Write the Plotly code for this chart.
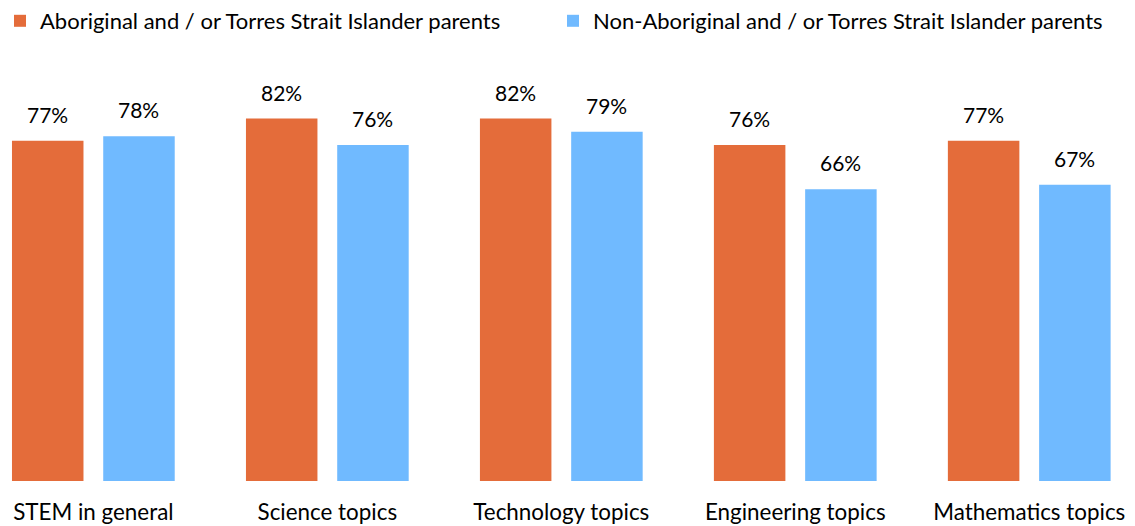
import plotly.graph_objects as go

# Share of parents, by topic area
categories = ["STEM in general", "Science topics", "Technology topics",
              "Engineering topics", "Mathematics topics"]
series_names = ["Aboriginal and / or Torres Strait Islander parents",
                "Non-Aboriginal and / or Torres Strait Islander parents"]
aboriginal = [77, 82, 82, 76, 77]
non_aboriginal = [78, 76, 79, 66, 67]
colors = ["#E46C3A", "#70BAFF"]

W, H = 1135, 526
M_L, M_R, M_T, M_B = 0, 0, 39, 45
X_RANGE = [-0.399, 4.452]
BARGAP = 0.22
BARGROUPGAP = 0.2165
FONT = "Lato"
FS_LABEL = 21
FS_TICK = 22.4
FS_LEGEND = 22.0

fig = go.Figure()
for name, vals, col in zip(series_names, [aboriginal, non_aboriginal], colors):
    fig.add_trace(go.Bar(x=categories, y=vals, name=name,
                         marker=dict(color=col, line=dict(width=0))))

# value labels above each bar: horizontal offset of each bar within its group
px_per_unit = (W - M_L - M_R) / (X_RANGE[1] - X_RANGE[0])
slot = (1 - BARGAP) / 2
shift = slot / 2 * px_per_unit
annotations = []
for k, vals in enumerate([aboriginal, non_aboriginal]):
    for cat, v in zip(categories, vals):
        annotations.append(dict(
            x=cat, y=v, xref="x", yref="y", text=f"{v}%", showarrow=False,
            xshift=(-shift if k == 0 else shift), yshift=12, yanchor="bottom",
            font=dict(family=FONT, size=FS_LABEL, color="#000000")))

fig.update_layout(
    width=W, height=H,
    margin=dict(l=M_L, r=M_R, t=M_T, b=M_B, autoexpand=False),
    paper_bgcolor="white", plot_bgcolor="white",
    barmode="group", bargap=BARGAP, bargroupgap=BARGROUPGAP,
    font=dict(family=FONT, size=FS_LABEL, color="#000000"),
    showlegend=True,
    legend=dict(orientation="h", x=-0.0062, y=1.0, xref="container", yref="container",
                xanchor="left", yanchor="top", borderwidth=0, tracegroupgap=0,
                font=dict(family=FONT, size=FS_LEGEND, color="#000000"),
                traceorder="normal", entrywidth=508, entrywidthmode="pixels"),
    annotations=annotations,
    xaxis=dict(range=X_RANGE, showgrid=False, zeroline=False, showline=False,
               ticks="", ticklabelstandoff=16, automargin=False,
               tickfont=dict(family=FONT, size=FS_TICK, color="#000000")),
    yaxis=dict(range=[0, 100], visible=False, fixedrange=True, automargin=False),
)

fig.write_html("out.html")
